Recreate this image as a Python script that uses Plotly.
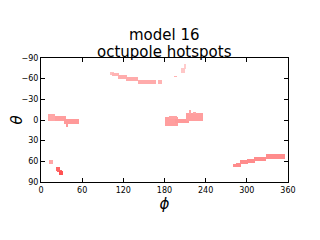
import numpy as np
import plotly.graph_objects as go

# grid resolution (degrees)
phi_centers = list(np.arange(1, 360, 2))
theta_centers = list(np.arange(-89, 90, 2))

# hotspot segments: theta range, phi range, intensity
seg_theta0 = [-69, -67, -65, -62, -57, -58, -81, -75, -64,
              -8, -6, -2, 4,
              -3, -6, -2, -9, -13, -12,
              59, 68, 72, 74,
              65, 62, 59, 57, 54, 51]
seg_theta1 = [-67, -64, -61, -57, -52, -53, -75, -69, -62,
              2, 2, 6, 10,
              7, -2, 4, 1, -9, -9,
              63, 73, 75, 80,
              68, 67, 64, 61, 59, 56]
seg_phi0 = [100, 105, 113, 125, 142, 171, 208, 205, 194,
            10, 20, 35, 36,
            181, 187, 197, 213, 216, 222,
            12, 23, 25, 26,
            280, 284, 291, 300, 311, 328]
seg_phi1 = [105, 113, 125, 142, 167, 175, 212, 210, 198,
            20, 35, 55, 40,
            200, 197, 215, 235, 218, 226,
            18, 27, 29, 32,
            285, 292, 301, 312, 328, 355]
seg_val = [0.25, 0.3, 0.32, 0.33, 0.33, 0.3, 0.2, 0.22, 0.3,
           0.35, 0.38, 0.4, 0.4,
           0.38, 0.36, 0.4, 0.38, 0.35, 0.35,
           0.35, 0.6, 0.6, 0.68,
           0.45, 0.45, 0.45, 0.45, 0.45, 0.45]

title_lines = ["model 16", "octupole hotspots"]

z = np.full((len(theta_centers), len(phi_centers)), np.nan)
th = np.array(theta_centers)
ph = np.array(phi_centers)
for t0, t1, p0, p1, v in zip(seg_theta0, seg_theta1, seg_phi0, seg_phi1, seg_val):
    rows = (th >= t0) & (th <= t1)
    cols = (ph >= p0) & (ph <= p1)
    z[np.ix_(rows, cols)] = v

z_list = [[None if np.isnan(c) else float(c) for c in r] for r in z]

fig = go.Figure(go.Heatmap(
    x=phi_centers, y=theta_centers, z=z_list,
    zmin=0, zmax=1,
    colorscale=[[0, "#ffffff"], [1, "#ff0000"]],
    showscale=False, hoverongaps=False,
))

axis_common = dict(
    showline=True, linecolor="black", linewidth=1, mirror="ticks",
    ticks="inside", ticklen=4, tickcolor="black", showgrid=False,
    zeroline=False, automargin=False,
    tickfont=dict(family="DejaVu Sans", size=8, color="black"),
)
fig.update_xaxes(range=[0, 360], tickvals=[0, 60, 120, 180, 240, 300, 360],
                 title=dict(text="<i>ϕ</i>", font=dict(family="DejaVu Sans", size=15, color="black"), standoff=0),
                 **axis_common)
fig.update_yaxes(range=[90, -90], tickvals=[-90, -60, -30, 0, 30, 60, 90],
                 title=dict(text="<i>θ</i>", font=dict(family="DejaVu Sans", size=15, color="black"), standoff=3),
                 **axis_common)

for line, shift in zip(title_lines, [23, 6]):
    fig.add_annotation(
        text=line, xref="paper", yref="paper",
        x=0.5, y=1, xanchor="center", yanchor="middle", yshift=shift,
        showarrow=False, font=dict(family="DejaVu Sans", size=15, color="black"),
    )

fig.update_layout(
    width=312, height=232,
    margin=dict(l=33, r=32, t=50, b=58, autoexpand=False),
    paper_bgcolor="white", plot_bgcolor="white",
)

fig.write_html("out.html")
